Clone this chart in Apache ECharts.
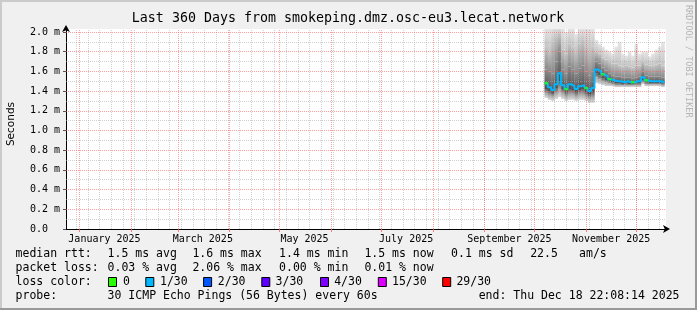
<!DOCTYPE html>
<html><head><meta charset="utf-8">
<script src="https://cdn.jsdelivr.net/npm/echarts@6.0.0/dist/echarts.min.js"></script>
<style>html,body{margin:0;padding:0;background:#f0f0f0;}#c{width:697px;height:310px;}</style>
</head><body><div id="c"></div>
<script>
// ---- data ----
const rangeStart = '2024-12-23T22:08:14Z';
const rangeEnd = '2025-12-18T22:08:14Z';
const dates = ['2025-10-07','2025-10-09','2025-10-11','2025-10-13','2025-10-15','2025-10-17','2025-10-19','2025-10-21','2025-10-23','2025-10-25','2025-10-27','2025-10-29','2025-10-31',
  '2025-11-02','2025-11-04','2025-11-06','2025-11-08','2025-11-10','2025-11-12','2025-11-14','2025-11-16','2025-11-18','2025-11-20','2025-11-22','2025-11-24','2025-11-26','2025-11-28','2025-11-30',
  '2025-12-02','2025-12-04','2025-12-06','2025-12-08','2025-12-10','2025-12-12','2025-12-14','2025-12-16','2025-12-18'];
const median = [1.48,1.44,1.41,1.47,1.58,1.46,1.42,1.47,1.45,1.42,1.45,1.46,1.43,1.40,1.43,
  1.62,1.60,1.57,1.55,1.52,1.51,1.50,1.50,1.49,1.50,1.49,1.49,1.50,1.50,1.54,1.51,1.50,1.50,1.50,1.50,1.49,1.49];
const lossCount = [0,1,1,1,1,1,0,1,1,1,1,1,0,1,1, 1,1,0,1,0,1,1,1,1,1,1,0,1,1,1,0,1,1,1,1,1,1];
const pMin = [1.33,1.31,1.30,1.32,1.34,1.32,1.30,1.31,1.31,1.30,1.31,1.31,1.30,1.28,1.28,
  1.48,1.47,1.46,1.45,1.45,1.45,1.44,1.44,1.44,1.44,1.44,1.44,1.44,1.44,1.47,1.45,1.45,1.45,1.45,1.45,1.44,1.44];
const p10 = [1.38,1.36,1.35,1.38,1.42,1.38,1.35,1.37,1.37,1.35,1.37,1.37,1.35,1.33,1.34,
  1.54,1.52,1.50,1.49,1.48,1.47,1.46,1.46,1.46,1.46,1.46,1.46,1.46,1.46,1.49,1.47,1.47,1.47,1.47,1.47,1.46,1.46];
const p25 = [1.42,1.40,1.38,1.43,1.50,1.42,1.39,1.42,1.41,1.39,1.41,1.42,1.39,1.37,1.39,
  1.58,1.56,1.53,1.51,1.50,1.49,1.48,1.48,1.47,1.48,1.47,1.47,1.48,1.48,1.51,1.49,1.48,1.48,1.48,1.48,1.48,1.48];
const p75 = [1.62,1.60,1.58,1.70,1.80,1.62,1.58,1.65,1.62,1.58,1.63,1.66,1.60,1.56,1.60,
  1.70,1.68,1.64,1.61,1.58,1.56,1.55,1.55,1.54,1.54,1.54,1.53,1.54,1.55,1.60,1.56,1.55,1.55,1.55,1.55,1.54,1.54];
const p90 = [1.85,1.80,1.90,1.95,1.98,1.82,1.78,1.88,1.85,1.80,1.88,1.92,1.85,1.80,1.85,
  1.80,1.78,1.74,1.72,1.70,1.68,1.68,1.66,1.65,1.66,1.65,1.64,1.66,1.66,1.70,1.67,1.66,1.66,1.67,1.68,1.66,1.65];
const pMax = [2.05,2.05,2.05,2.05,2.05,2.05,2.00,2.05,2.05,1.98,2.05,2.05,2.05,2.05,2.05,
  1.92,1.88,1.85,1.82,1.80,1.78,1.85,1.90,1.78,1.76,1.80,1.76,1.88,1.78,1.80,1.80,1.75,1.78,1.82,1.85,1.90,1.80];
const monthStarts = ['2025-01-01','2025-02-01','2025-03-01','2025-04-01','2025-05-01','2025-06-01','2025-07-01','2025-08-01','2025-09-01','2025-10-01','2025-11-01','2025-12-01'];
const monthLabelDates = ['2025-01-16','2025-03-16','2025-05-16','2025-07-16','2025-09-16','2025-11-16'];
const monthLabels = ['January 2025','March 2025','May 2025','July 2025','September 2025','November 2025'];
const yTicks = [0,0.2,0.4,0.6,0.8,1.0,1.2,1.4,1.6,1.8,2.0];
const yMinor = [0.1,0.3,0.5,0.7,0.9,1.1,1.3,1.5,1.7,1.9];
const yMax = 2.03;
const lossLegend = ['0','1/30','2/30','3/30','4/30','15/30','29/30'];
const lossLegendColors = ['#26ff00','#00b8ff','#0059ff','#5e00ff','#7e00ff','#dd00ff','#ff0000'];
const statsRtt = ['1.5 ms avg','1.6 ms max','1.4 ms min','1.5 ms now','0.1 ms sd','22.5','am/s'];
const statsLoss = ['0.03 % avg','2.06 % max','0.00 % min','0.01 % now'];

// ---- build ----
const T = s => Date.parse(s.length === 10 ? s + 'T00:00:00Z' : s);
const tStart = T(rangeStart), tEnd = T(rangeEnd);
const ts = dates.map(T);
const pair = arr => arr.map((v, i) => [ts[i], v]);
const labelTimes = monthLabelDates.map(T);
// smoke columns: [t0, t1, min, p10, p25, p75, p90, max]
const smoke = [];
for (let i = 0; i < ts.length - 1; i++) smoke.push([ts[i], ts[i + 1], pMin[i], p10[i], p25[i], p75[i], p90[i], pMax[i]]);
// [bottom colour, top colour] for each band
const bandColors = [['#dcdcdc', '#a4a4a4'], ['#a4a4a4', '#606060'], ['#505050', '#8a8a8a'], ['#8a8a8a', '#c4c4c4'], ['#c4c4c4', '#e6e6e6']];

const weeks = [];
for (let t = T('2024-12-30'); t < tEnd; t += 7 * 86400000) weeks.push(t);
const minorC = 'rgba(171,171,171,0.55)';
const majorC = 'rgba(255,95,95,0.6)';
const gridLines = [];
weeks.forEach(t => gridLines.push({xAxis: t, lineStyle: {color: minorC, type: [1, 1], width: 1}}));
yMinor.forEach(v => gridLines.push({yAxis: v, lineStyle: {color: minorC, type: [1, 1], width: 1}}));
monthStarts.map(T).forEach(t => gridLines.push({xAxis: t, lineStyle: {color: majorC, type: [1, 1], width: 1}}));
yTicks.slice(1).forEach(v => gridLines.push({yAxis: v, lineStyle: {color: majorC, type: [1, 1], width: 1}}));

function renderSmoke(params, api) {
  const cs = params.coordSys;
  const children = [];
  for (let b = 0; b < 5; b++) {
    const a = api.coord([api.value(0), api.value(3 + b)]);
    const c = api.coord([api.value(1), api.value(2 + b)]);
    const full = {x: a[0], y: a[1], width: c[0] - a[0] + 0.3, height: c[1] - a[1]};
    const shape = echarts.graphic.clipRectByRect(full, {x: cs.x, y: cs.y, width: cs.width, height: cs.height});
    if (!shape) continue;
    const grad = new echarts.graphic.LinearGradient(0, full.y + full.height, 0, full.y, [
      {offset: 0, color: bandColors[b][0]}, {offset: 1, color: bandColors[b][1]}], true);
    children.push({type: 'rect', shape, style: {fill: grad}});
  }
  return {type: 'group', children};
}

const mono = 'DejaVu Sans Mono';
const graphics = [
  {type: 'rect', shape: {x: 0, y: 0, width: 697, height: 2}, style: {fill: '#cbcbcb'}},
  {type: 'rect', shape: {x: 0, y: 0, width: 2, height: 310}, style: {fill: '#cbcbcb'}},
  {type: 'rect', shape: {x: 0, y: 308, width: 697, height: 2}, style: {fill: '#999999'}},
  {type: 'rect', shape: {x: 695, y: 0, width: 2, height: 310}, style: {fill: '#999999'}},
  {type: 'text', x: 348, y: 19, style: {text: 'Last 360 Days from smokeping.dmz.osc-eu3.lecat.network', font: '13.3px ' + mono, fill: '#000', textAlign: 'center', textVerticalAlign: 'middle'}},
  {type: 'text', x: 11, y: 124, rotation: Math.PI / 2, style: {text: 'Seconds', font: '10.5px DejaVu Sans', fill: '#000', textAlign: 'center', textVerticalAlign: 'middle'}},
  {type: 'text', x: 688, y: 5, rotation: -Math.PI / 2, style: {text: 'RRDTOOL / TOBI OETIKER', font: '8.5px ' + mono, fill: '#b4b4b4', textAlign: 'left', textVerticalAlign: 'middle'}}
];
const legendFont = '11.5px ' + mono;
const txt = (s, x, y) => graphics.push({type: 'text', x, y, style: {text: s, font: legendFont, fill: '#000', textAlign: 'left', textVerticalAlign: 'middle'}});
txt('median rtt:', 15.6, 254);
[107.6, 192.4, 279.1, 364.4, 451.1, 530.2, 579.1].forEach((x, i) => txt(statsRtt[i], x, 254));
txt('packet loss:', 15.6, 268);
[107.6, 192.4, 279.1, 364.4].forEach((x, i) => txt(statsLoss[i], x, 268));
txt('loss color:', 15.6, 282);
const boxX = [108, 145.3, 203.1, 261.3, 320, 377.8, 442.2];
const labX = [123.1, 160, 217.8, 275.6, 334.2, 392, 456.4];
lossLegend.forEach((s, i) => {
  graphics.push({type: 'rect', shape: {x: boxX[i] + 0.5, y: 277.5, width: 8, height: 9}, style: {fill: lossLegendColors[i], stroke: '#000', lineWidth: 1}});
  txt(s, labX[i], 282);
});
txt('probe:', 15.6, 296);
txt('30 ICMP Echo Pings (56 Bytes) every 60s', 107.6, 296);
txt('end: Thu Dec 18 22:08:14 2025', 478.7, 296);

const chart = echarts.init(document.getElementById('c'));
chart.setOption({
  animation: false,
  backgroundColor: '#f0f0f0',
  grid: {left: 66, top: 29, width: 600, height: 200, show: true, backgroundColor: '#ffffff', borderWidth: 0},
  xAxis: {
    type: 'value', min: tStart, max: tEnd,
    axisLine: {show: true, lineStyle: {color: '#000', width: 1}, symbol: ['none', 'arrow'], symbolSize: [6, 7], symbolOffset: [0, 4]},
    axisTick: {show: true, customValues: monthStarts.map(T), length: 3, lineStyle: {color: 'rgba(255,95,95,0.8)'}},
    axisLabel: {show: true, customValues: labelTimes, formatter: v => monthLabels[labelTimes.indexOf(v)] || '', fontFamily: mono, fontSize: 10, color: '#000', margin: 5},
    splitLine: {show: false}
  },
  yAxis: {
    type: 'value', min: 0, max: yMax,
    axisLine: {show: true, lineStyle: {color: '#000', width: 1}, symbol: ['none', 'arrow'], symbolSize: [6, 7], symbolOffset: [0, 4]},
    axisTick: {show: true, customValues: yTicks, length: 3, lineStyle: {color: '#555'}},
    axisLabel: {show: true, customValues: yTicks, formatter: v => v === 0 ? '0.0  ' : v.toFixed(1) + ' m', fontFamily: mono, fontSize: 10, color: '#000', margin: 6},
    splitLine: {show: false}
  },
  series: [
    {name: 'smoke', type: 'custom', renderItem: renderSmoke, data: smoke, z: 2, silent: true,
      encode: {x: [0, 1], y: [2, 7]}},
    {name: 'grid', type: 'line', data: [], z: 4, silent: true,
      markLine: {silent: true, symbol: ['none', 'none'], label: {show: false}, animation: false, data: gridLines}},
    {name: 'median', type: 'line', step: 'end', data: pair(median), symbol: 'none', z: 6,
      lineStyle: {color: '#00b8ff', width: 2}},
    {name: 'median loss 0', type: 'scatter', z: 7, symbol: 'rect', symbolSize: [3.3, 2.5], symbolOffset: [1.67, 0],
      itemStyle: {color: '#26ff00'},
      data: pair(median).filter((p, i) => lossCount[i] === 0)}
  ],
  graphic: graphics
});
</script></body></html>
